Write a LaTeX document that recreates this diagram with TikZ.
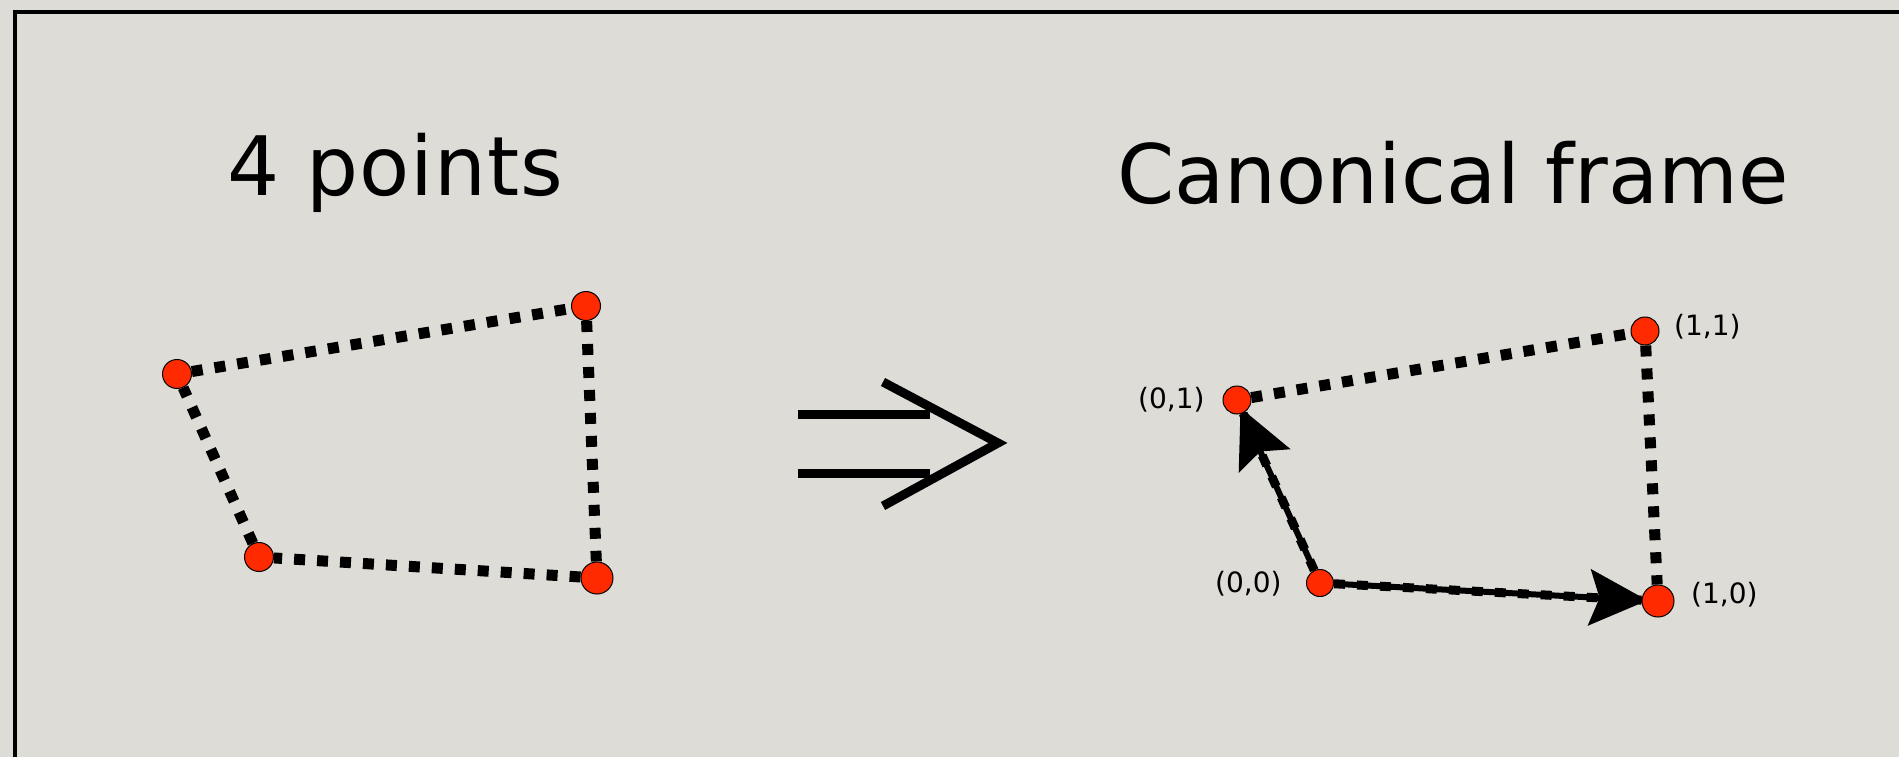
\documentclass[tikz,border=0pt]{standalone}
\usepackage{fontspec}
\setmainfont{DejaVu Sans}
\usetikzlibrary{arrows.meta,backgrounds}
\definecolor{paper}{RGB}{222,220,214}
\definecolor{dotred}{RGB}{255,42,0}
\tikzset{
  redpt/.style={circle, fill=dotred, draw=black, line width=1pt, inner sep=0pt, minimum size=#1},
  redpt/.default=29pt,
  dotline/.style={line width=11pt, dash pattern=on 11pt off 12pt},
  vecline/.style={line width=6pt, shorten >=-6pt, -{Stealth[length=58pt, width=56pt, inset=10pt]}},
  coordlabel/.style={font=\fontsize{28}{34}\selectfont, inner sep=0pt, anchor=base west},
  heading/.style={font=\fontsize{82}{98}\selectfont, inner sep=0pt, anchor=base west},
  impliesbar/.style={line width=9pt}
}
\begin{document}
\begin{tikzpicture}[x=1pt, y=-1pt]
  \useasboundingbox (0,0) rectangle (1899,757);

  % headings
  \node[heading] (htitle) at (227,195) {\addfontfeature{LetterSpace=1.2}4 points};
  \node[heading] (ctitle) at (1117,204) {Canonical frame};

  % four arbitrary points
  \node[redpt] (p1) at (177,374) {};
  \node[redpt] (p2) at (586,306) {};
  \node[redpt] (p3) at (259,557) {};
  \node[redpt=32pt] (p4) at (597,578) {};

  % canonical frame points
  \node[redpt=28pt] (c01) at (1237,400) {};
  \node[redpt=28pt] (c11) at (1645,331) {};
  \node[redpt=27pt] (c00) at (1320,583) {};
  \node[redpt=32pt] (c10) at (1658,601) {};

  % coordinate labels
  \node[coordlabel] (l01) at (1138,408) {(0,1)};
  \node[coordlabel] (l00) at (1215,592) {(0,0)};
  \node[coordlabel] (l11) at (1674,335) {(1,1)};
  \node[coordlabel] (l10) at (1691,603) {(1,0)};

  % implication sign
  \coordinate (barA1) at (798,414);
  \coordinate (barA2) at (930,414);
  \coordinate (barB1) at (798,473);
  \coordinate (barB2) at (930,473);
  \coordinate (chevT) at (883,382);
  \coordinate (chevM) at (998,443);
  \coordinate (chevB) at (883,506);
  \draw[impliesbar] (barA1) -- (barA2);
  \draw[impliesbar] (barB1) -- (barB2);
  \draw[impliesbar, miter limit=10] (chevT) -- (chevM) -- (chevB);

  \begin{scope}[on background layer]
    \fill[paper] (0,0) rectangle (1899,757);
    \coordinate (frameB) at (15,757);
    \coordinate (frameC) at (15,12);
    \coordinate (frameR) at (1899,12);
    \draw[line width=4pt] (frameB) -- (frameC) -- (frameR);

    % quadrilateral
    \draw[dotline] (p1) -- (p2);
    \draw[dotline] (p2) -- (p4);
    \draw[dotline] (p4) -- (p3);
    \draw[dotline] (p3) -- (p1);

    % canonical frame edges
    \draw[dotline] (c01) -- (c11);
    \draw[dotline] (c11) -- (c10);
    \draw[dotline, line width=9pt] (c00) -- (c10);
    \draw[dotline, line width=9pt] (c00) -- (c01);
    \draw[vecline] (c00) -- (c10);
    \draw[vecline] (c00) -- (c01);
  \end{scope}
\end{tikzpicture}
\end{document}
